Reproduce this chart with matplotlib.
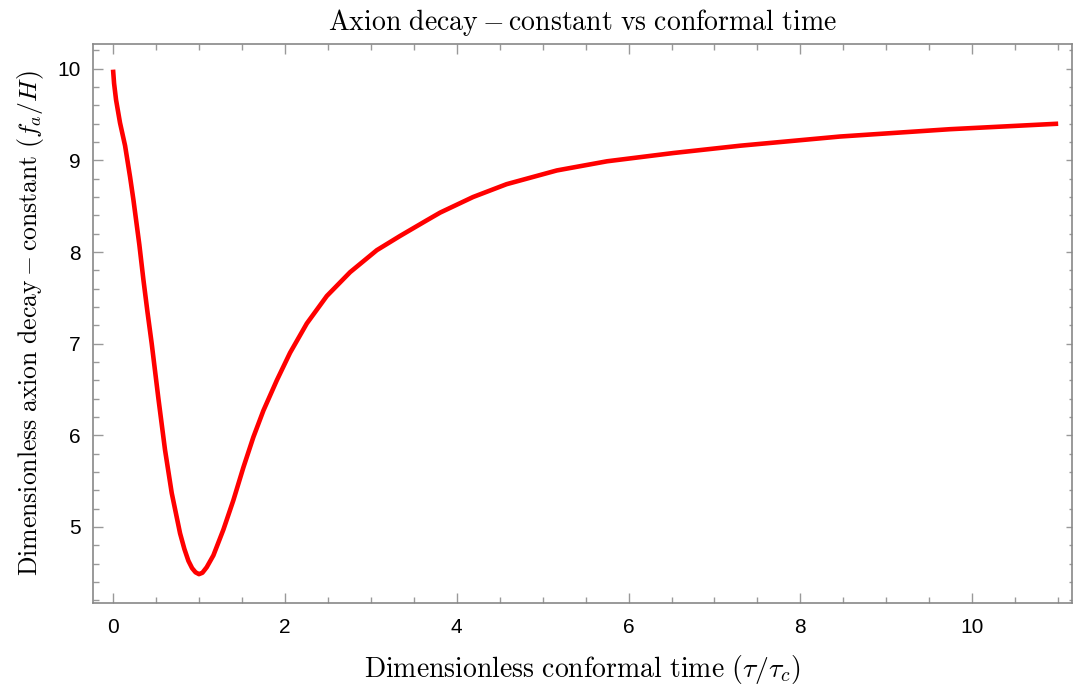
import matplotlib.pyplot as plt
from matplotlib.ticker import MultipleLocator

plt.rcParams['mathtext.fontset'] = 'cm'

# curve
tau = [0.0, 0.012, 0.035, 0.081, 0.14, 0.198, 0.237, 0.306, 0.353, 0.40,
       0.45, 0.528, 0.605, 0.683, 0.78, 0.83, 0.877, 0.92, 0.96, 1.0, 1.04,
       1.09, 1.168, 1.284, 1.40, 1.517, 1.633, 1.75, 1.906, 2.06, 2.255,
       2.488, 2.759, 3.07, 3.34, 3.65, 3.807, 4.19, 4.58, 5.165, 5.75, 6.52,
       7.30, 8.46, 9.74, 11.0]
decay = [9.99, 9.84, 9.66, 9.41, 9.16, 8.82, 8.57, 8.08, 7.70, 7.35,
         7.0, 6.40, 5.84, 5.37, 4.93, 4.76, 4.63, 4.55, 4.505, 4.485, 4.50,
         4.56, 4.69, 4.97, 5.29, 5.65, 5.98, 6.27, 6.60, 6.90, 7.22,
         7.52, 7.78, 8.02, 8.175, 8.345, 8.43, 8.60, 8.74, 8.89, 8.99, 9.08,
         9.16, 9.26, 9.34, 9.40]

fig = plt.figure(figsize=(10.73, 6.85), dpi=100)
ax = fig.add_axes([0.0867, 0.1197, 0.9123, 0.8161])

ax.plot(tau, decay, color='#ff0000', lw=3.3, solid_capstyle='butt',
        solid_joinstyle='round')

ax.set_xlim(-0.233, 11.16)
ax.set_ylim(4.17, 10.27)

ax.xaxis.set_major_locator(MultipleLocator(2))
ax.xaxis.set_minor_locator(MultipleLocator(0.5))
ax.yaxis.set_major_locator(MultipleLocator(1))
ax.yaxis.set_minor_locator(MultipleLocator(0.2))

tc = '#999999'
ax.tick_params(which='both', direction='in', color=tc, width=1, top=True,
               right=False, labelsize=15, labelcolor='black')
ax.tick_params(which='major', length=7)
ax.tick_params(which='minor', length=4)
ax.tick_params(axis='x', pad=11)
ax.tick_params(axis='y', pad=9)
for lab in ax.get_xticklabels() + ax.get_yticklabels():
    lab.set_family('Liberation Sans')

# smaller ticks on the right side, like the original
sec = ax.secondary_yaxis('right')
sec.yaxis.set_major_locator(MultipleLocator(1))
sec.yaxis.set_minor_locator(MultipleLocator(0.2))
sec.tick_params(which='both', direction='in', color=tc, width=1, labelright=False)
sec.tick_params(which='major', length=4)
sec.tick_params(which='minor', length=2)
sec.spines['right'].set_visible(False)

for s in ax.spines.values():
    s.set_color('#888888')
    s.set_linewidth(1.2)

ax.set_title(r'$\mathrm{Axion\ decay} - \mathrm{constant\ vs\ conformal\ time}$',
             fontsize=20, pad=10)
ax.set_xlabel(r'$\mathrm{Dimensionless\ conformal\ time}\ (\tau/\tau_c)$',
              fontsize=20, labelpad=11)
ax.set_ylabel(r'$\mathrm{Dimensionless\ axion\ decay} - \mathrm{constant}\ (f_a/H)$',
              fontsize=18.5, labelpad=8)

fig.savefig('out.png', dpi=100)
